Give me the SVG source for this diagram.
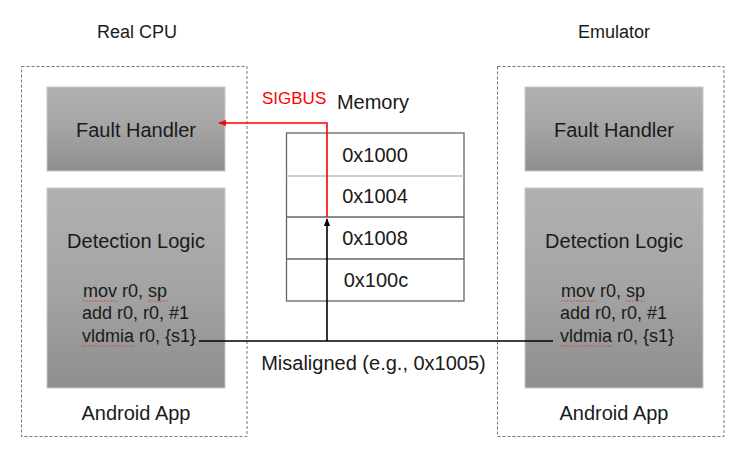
<svg xmlns="http://www.w3.org/2000/svg" width="752" height="461" viewBox="0 0 752 461">
<defs>
<linearGradient id="g" x1="0" y1="0" x2="0" y2="1">
<stop offset="0" stop-color="#b1b1b1"/>
<stop offset="0.5" stop-color="#a4a4a4"/>
<stop offset="1" stop-color="#8e8e8e"/>
</linearGradient>
<marker id="ar" viewBox="0 0 10 10" refX="9" refY="5" markerWidth="5" markerHeight="5" orient="auto">
<path d="M0,1 L10,5 L0,9 z" fill="#ff0000"/>
</marker>
<marker id="ab" viewBox="0 0 10 10" refX="9" refY="5" markerWidth="5" markerHeight="5" orient="auto">
<path d="M0,1 L10,5 L0,9 z" fill="#000"/>
</marker>
</defs>
<style>
text{font-family:"Liberation Sans",Arial,sans-serif;fill:#1a1a1a}
.t{font-size:20px;text-anchor:middle}
.h{font-size:18px;text-anchor:middle}
.c{font-size:18px}
.box{fill:url(#g);stroke:#c8c8c8;stroke-width:1}
.dash{fill:none;stroke:#777;stroke-width:1;stroke-dasharray:3 2}
.sq{stroke:#e23a3a;stroke-width:1.2;stroke-dasharray:1.5 1.5}
.cell{fill:#fff;stroke:#666;stroke-width:1.3}
</style>
<rect width="752" height="461" fill="#fff"/>

<g id="real-cpu">
<text class="h" x="137" y="38">Real CPU</text>
<rect class="dash" x="21.5" y="66.5" width="225.5" height="370"/>
<text class="t" x="136" y="420">Android App</text>
</g>
<g id="real-fault-handler">
<rect class="box" x="47" y="87" width="178" height="84"/>
<text class="t" x="136" y="137">Fault Handler</text>
</g>
<g id="real-detection-logic">
<rect class="box" x="47" y="188" width="178" height="200"/>
<text class="t" x="136" y="248">Detection Logic</text>
<text class="c" x="83" y="297">mov r0, sp</text>
<text class="c" x="82" y="319">add r0, r0, #1</text>
<text class="c" x="82" y="342">vldmia r0, {s1}</text>
<line class="sq" x1="83" y1="301" x2="117" y2="301"/>
<line class="sq" x1="148" y1="301" x2="167" y2="301"/>
<line class="sq" x1="82" y1="346" x2="134" y2="346"/>
</g>

<g id="emulator">
<text class="h" x="614" y="38">Emulator</text>
<rect class="dash" x="497.5" y="66.5" width="226.5" height="370"/>
<text class="t" x="614" y="420">Android App</text>
</g>
<g id="emu-fault-handler">
<rect class="box" x="525" y="87" width="178" height="84"/>
<text class="t" x="614" y="137">Fault Handler</text>
</g>
<g id="emu-detection-logic">
<rect class="box" x="525" y="188" width="178" height="200"/>
<text class="t" x="614" y="248">Detection Logic</text>
<text class="c" x="561" y="297">mov r0, sp</text>
<text class="c" x="560" y="319">add r0, r0, #1</text>
<text class="c" x="560" y="342">vldmia r0, {s1}</text>
<line class="sq" x1="561" y1="301" x2="595" y2="301"/>
<line class="sq" x1="626" y1="301" x2="645" y2="301"/>
<line class="sq" x1="560" y1="346" x2="612" y2="346"/>
</g>

<g id="memory">
<text class="t" x="373" y="109">Memory</text>
<rect class="cell" x="286.5" y="133" width="177.5" height="168"/>
<line x1="286.5" y1="176" x2="464" y2="176" stroke="#bdbdbd" stroke-width="1.3"/>
<line x1="286.5" y1="217" x2="464" y2="217" stroke="#666" stroke-width="1.3"/>
<line x1="286.5" y1="259" x2="464" y2="259" stroke="#666" stroke-width="1.3"/>
<text class="t" x="375" y="162">0x1000</text>
<text class="t" x="375" y="203">0x1004</text>
<text class="t" x="375" y="245">0x1008</text>
<text class="t" x="376" y="287">0x100c</text>
</g>

<g id="connectors">
<polyline points="327,217 327,123 219,123" fill="none" stroke="#ff0000" stroke-width="1.6" marker-end="url(#ar)"/>
<line x1="199" y1="341" x2="553" y2="341" stroke="#000" stroke-width="1.4"/>
<line x1="327" y1="341" x2="327" y2="219" stroke="#000" stroke-width="1.6" marker-end="url(#ab)"/>
<text x="262" y="104" style="font-size:17px;fill:#ff0000">SIGBUS</text>
<text class="t" x="373.5" y="370">Misaligned (e.g., 0x1005)</text>
</g>
</svg>
